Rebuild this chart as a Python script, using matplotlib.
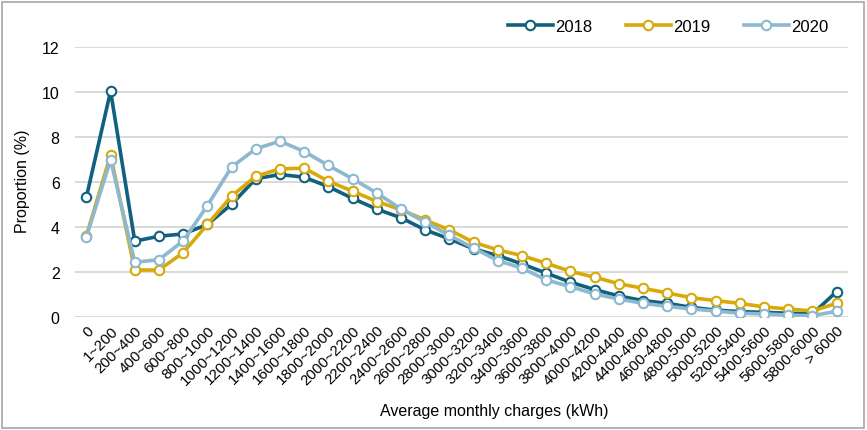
import matplotlib
matplotlib.use("Agg")
import matplotlib.pyplot as plt
from matplotlib.patches import Rectangle

plt.rcParams['font.family'] = ['Liberation Sans', 'DejaVu Sans']

categories = ["0", "1~200", "200~400", "400~600", "600~800", "800~1000",
              "1000~1200", "1200~1400", "1400~1600", "1600~1800", "1800~2000",
              "2000~2200", "2200~2400", "2400~2600", "2600~2800", "2800~3000",
              "3000~3200", "3200~3400", "3400~3600", "3600~3800", "3800~4000",
              "4000~4200", "4200-4400", "4400-4600", "4600-4800", "4800-5000",
              "5000-5200", "5200-5400", "5400-5600", "5600-5800", "5800-6000",
              "> 6000"]

share_2018 = [5.33, 10.04, 3.38, 3.60, 3.70, 4.12, 5.02, 6.15, 6.34, 6.22,
              5.80, 5.28, 4.80, 4.42, 3.88, 3.48, 3.04, 2.74, 2.37, 1.96,
              1.56, 1.23, 0.95, 0.74, 0.62, 0.44, 0.32, 0.25, 0.22, 0.18,
              0.15, 1.14]
share_2019 = [3.62, 7.21, 2.10, 2.10, 2.87, 4.12, 5.38, 6.26, 6.59, 6.62,
              6.04, 5.60, 5.14, 4.78, 4.32, 3.88, 3.33, 2.99, 2.74, 2.40,
              2.04, 1.78, 1.49, 1.29, 1.08, 0.87, 0.74, 0.62, 0.46, 0.37,
              0.28, 0.62]
share_2020 = [3.56, 6.99, 2.44, 2.56, 3.39, 4.96, 6.67, 7.48, 7.82, 7.36,
              6.74, 6.15, 5.52, 4.81, 4.22, 3.64, 3.07, 2.52, 2.18, 1.66,
              1.36, 1.04, 0.81, 0.62, 0.49, 0.37, 0.28, 0.18, 0.15, 0.10,
              0.07, 0.27]

series = [("2018", share_2018, "#10607e"),
          ("2019", share_2019, "#d8a90a"),
          ("2020", share_2020, "#8cb8d0")]

W, H = 867, 431
fig = plt.figure(figsize=(W / 100, H / 100), dpi=100)
ax = fig.add_axes([75 / W, 1 - 318.3 / H, (848 - 75) / W, (318.3 - 48) / H])

x = list(range(len(categories)))
for name, vals, color in series:
    ax.plot(x, vals, color=color, lw=2.6, marker="o", markersize=6.8,
            markerfacecolor="white", markeredgecolor=color,
            markeredgewidth=1.5, label=name, solid_joinstyle="round")

ax.set_ylim(0, 12)
ax.set_yticks(range(0, 13, 2))
ax.set_xlim(-0.47, len(categories) - 1 + 0.47)
ax.set_xticks(x)
ax.set_xticklabels(categories, rotation=45, ha="right", rotation_mode="anchor",
                   fontsize=10.8)
ax.tick_params(axis="x", length=0, pad=4)
ax.tick_params(axis="y", length=0, pad=11, labelsize=11.5)
ax.grid(axis="y", color="#d9d9d9", lw=1.4)
ax.set_axisbelow(True)
for s in ax.spines.values():
    s.set_visible(False)

fig.text(23 / W, 1 - 181 / H, "Proportion (%)", rotation=90,
         ha="center", va="center", fontsize=11.5)
fig.text(494 / W, 1 - 412 / H, "Average monthly charges (kWh)",
         ha="center", va="center", fontsize=11.5)

ax.legend(loc="center", bbox_to_anchor=(668 / W, 1 - 27 / H),
          bbox_transform=fig.transFigure, ncol=3, frameon=False,
          fontsize=12, handlelength=2.7, handletextpad=0.15,
          columnspacing=2.0)

fig.patches.append(Rectangle((2 / W, 2 / H), (W - 5) / W, (H - 5) / H,
                             transform=fig.transFigure, fill=False,
                             edgecolor="#a6a6a6", lw=1.2))

fig.savefig("out.png", dpi=100)
